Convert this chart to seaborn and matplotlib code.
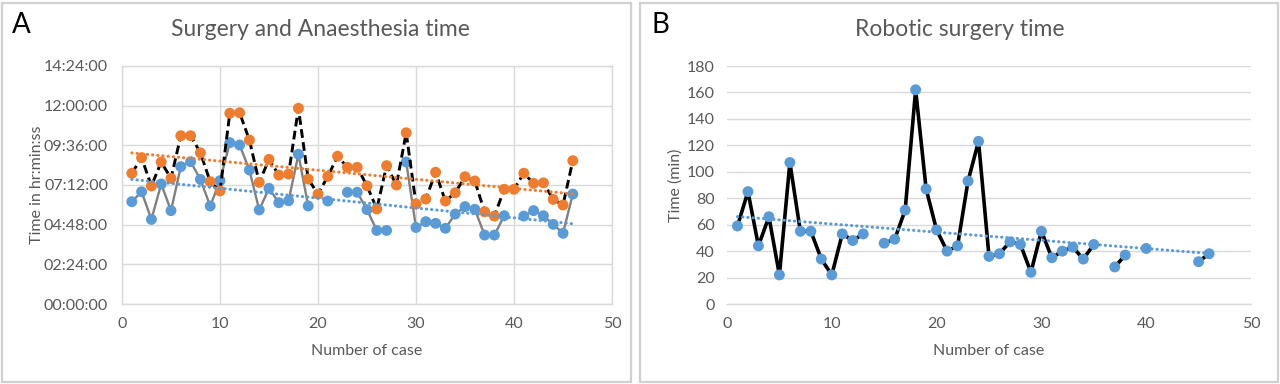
import numpy as np
import pandas as pd
import matplotlib
matplotlib.use("Agg")
import matplotlib.pyplot as plt
import seaborn as sns
from matplotlib.patches import Rectangle

# ---------------- data ----------------
cases = list(range(1, 47))

# Panel A: times in hours (orange = anaesthesia, blue = surgery)
anaesthesia_hr = [7.91, 8.85, 7.14, 8.59, 7.60, 10.18, 10.18, 9.15, 7.40, 6.84,
                  11.54, 11.57, 9.92, 7.36, 8.75, 7.80, 7.86, 11.84, 7.56, 6.65,
                  7.72, 8.94, 8.27, 8.27, 7.15, 5.75, 8.37, 7.20, 10.36, 6.05,
                  6.35, 7.97, 6.23, 6.73, 7.70, 7.44, 5.58, 5.32, 6.94, 6.94,
                  7.91, 7.30, 7.33, 6.33, 5.99, 8.67]
surgery_hr = [6.19, 6.79, 5.12, 7.26, 5.65, 8.31, 8.61, 7.54, 5.93, 7.46,
              9.76, 9.62, 8.11, 5.69, 7.00, 6.13, 6.25, 9.06, 5.93, np.nan,
              6.23, np.nan, 6.76, 6.76, 5.71, 4.45, 4.45, np.nan, 8.59, 4.63,
              4.98, 4.88, 4.58, 5.44, 5.89, 5.73, 4.17, 4.17, 5.34, np.nan,
              5.32, 5.65, 5.34, 4.82, 4.28, 6.65]

# Panel B: robotic surgery time in minutes
robotic_min = [59, 85, 44, 66, 22, 107, 55, 55, 34, 22,
               53, 48, 53, np.nan, 46, 49, 71, 162, 87, 56,
               40, 44, 93, 123, 36, 38, 47, 45, 24, 55,
               35, 40, 43, 34, 45, np.nan, 28, 37, np.nan, 42,
               np.nan, np.nan, np.nan, np.nan, 32, 38]

time_ticks_hr = [0, 2.4, 4.8, 7.2, 9.6, 12.0, 14.4]
time_tick_labels = ["00:00:00", "02:24:00", "04:48:00", "07:12:00",
                    "09:36:00", "12:00:00", "14:24:00"]
min_ticks = [0, 20, 40, 60, 80, 100, 120, 140, 160, 180]
case_ticks = [0, 10, 20, 30, 40, 50]

title_a = "Surgery and Anaesthesia time"
title_b = "Robotic surgery time"
ylabel_a = "Time in hr:min:ss"
ylabel_b = "Time (min)"
xlabel = "Number of case"

# ---------------- style ----------------
sns.set_theme(style="white")
plt.rcParams['font.family'] = ['Lato', 'DejaVu Sans']

BLUE = '#5B9BD5'
ORANGE = '#ED7D31'
GRID = '#d9d9d9'
TXT = '#595959'
DOT = (0, (0.1, 1.6))

W, H = 1280, 384
fig = plt.figure(figsize=(W / 100, H / 100), dpi=100)
fig.patch.set_facecolor('white')

# panel frames
for (x0, x1) in [(2, 631), (640, 1278)]:
    fig.patches.append(Rectangle((x0 / W, 2 / H), (x1 - x0) / W, 379 / H,
                                 transform=fig.transFigure, fill=False,
                                 edgecolor='#d0d0d0', lw=1.6))

axA = fig.add_axes([122 / W, 1 - 304 / H, 490 / W, 238 / H])
axB = fig.add_axes([727 / W, 1 - 304 / H, 524 / W, 238 / H])

# ---------------- Panel A ----------------
dfA = pd.DataFrame({'case': cases, 'anaes': anaesthesia_hr, 'surg': surgery_hr})

axA.plot(dfA['case'], dfA['surg'], color='#808080', lw=1.7, zorder=2)
sns.scatterplot(data=dfA, x='case', y='surg', color=BLUE, s=62,
                edgecolor='none', ax=axA, zorder=3)
axA.plot(dfA['case'], dfA['anaes'], color='black', lw=2.1,
         ls=(0, (3, 1.5)), zorder=4)
sns.scatterplot(data=dfA, x='case', y='anaes', color=ORANGE, s=62,
                edgecolor='none', ax=axA, zorder=5)
sns.regplot(data=dfA, x='case', y='surg', scatter=False, ci=None, ax=axA,
            line_kws=dict(color=BLUE, lw=2.2, ls=DOT,
                          dash_capstyle='round', zorder=6))
sns.regplot(data=dfA, x='case', y='anaes', scatter=False, ci=None, ax=axA,
            line_kws=dict(color=ORANGE, lw=2.2, ls=DOT,
                          dash_capstyle='round', zorder=6))

axA.set_xlim(0, 50)
axA.set_ylim(0, 14.4)
axA.set_xticks(case_ticks)
axA.set_yticks(time_ticks_hr, time_tick_labels)
axA.grid(True, color=GRID, lw=1)
axA.set_axisbelow(True)
for sp in axA.spines.values():
    sp.set_color(GRID)
    sp.set_linewidth(1)
axA.tick_params(axis='both', length=0, labelsize=11.5, colors=TXT)
axA.tick_params(axis='y', pad=10)
axA.tick_params(axis='x', pad=9)
axA.set_xlabel(xlabel, fontsize=11.5, color=TXT)
axA.set_ylabel(ylabel_a, fontsize=11.5, color=TXT)
axA.xaxis.set_label_coords(0.5, (304 - 351) / 238)
axA.xaxis.label.set_va('center')
axA.yaxis.set_label_coords((37 - 122) / 490, 0.5)
axA.yaxis.label.set_va('center')

# ---------------- Panel B ----------------
dfB = pd.DataFrame({'case': cases, 'robotic': robotic_min})

axB.plot(dfB['case'], dfB['robotic'], color='black', lw=2.6, zorder=3)
sns.scatterplot(data=dfB, x='case', y='robotic', color=BLUE, s=62,
                edgecolor='none', ax=axB, zorder=4)
sns.regplot(data=dfB, x='case', y='robotic', scatter=False, ci=None, ax=axB,
            line_kws=dict(color=BLUE, lw=2.2, ls=DOT,
                          dash_capstyle='round', zorder=5))

axB.set_xlim(0, 50)
axB.set_ylim(0, 180)
axB.set_xticks(case_ticks)
axB.set_yticks(min_ticks)
axB.grid(True, axis='y', color=GRID, lw=1)
axB.grid(False, axis='x')
axB.set_axisbelow(True)
for name, sp in axB.spines.items():
    if name == 'bottom':
        sp.set_color(GRID)
        sp.set_linewidth(1)
    else:
        sp.set_visible(False)
axB.tick_params(axis='both', length=0, labelsize=11.5, colors=TXT)
axB.tick_params(axis='y', pad=9)
axB.tick_params(axis='x', pad=9)
axB.set_xlabel(xlabel, fontsize=11.5, color=TXT)
axB.set_ylabel(ylabel_b, fontsize=11.5, color=TXT)
axB.xaxis.set_label_coords(0.5, (304 - 351) / 238)
axB.xaxis.label.set_va('center')
axB.yaxis.set_label_coords((676 - 727) / 524, 0.5)
axB.yaxis.label.set_va('center')

# ---------------- titles and panel letters ----------------
fig.text(320 / W, 1 - 30 / H, title_a, ha='center', va='center',
         fontsize=16.5, color=TXT)
fig.text(960 / W, 1 - 30 / H, title_b, ha='center', va='center',
         fontsize=16.5, color=TXT)
fig.text(12 / W, 1 - 25 / H, "A", ha='left', va='center', fontsize=20,
         color='black')
fig.text(652 / W, 1 - 25 / H, "B", ha='left', va='center', fontsize=20,
         color='black')

fig.savefig("out.png", dpi=100, facecolor='white')
